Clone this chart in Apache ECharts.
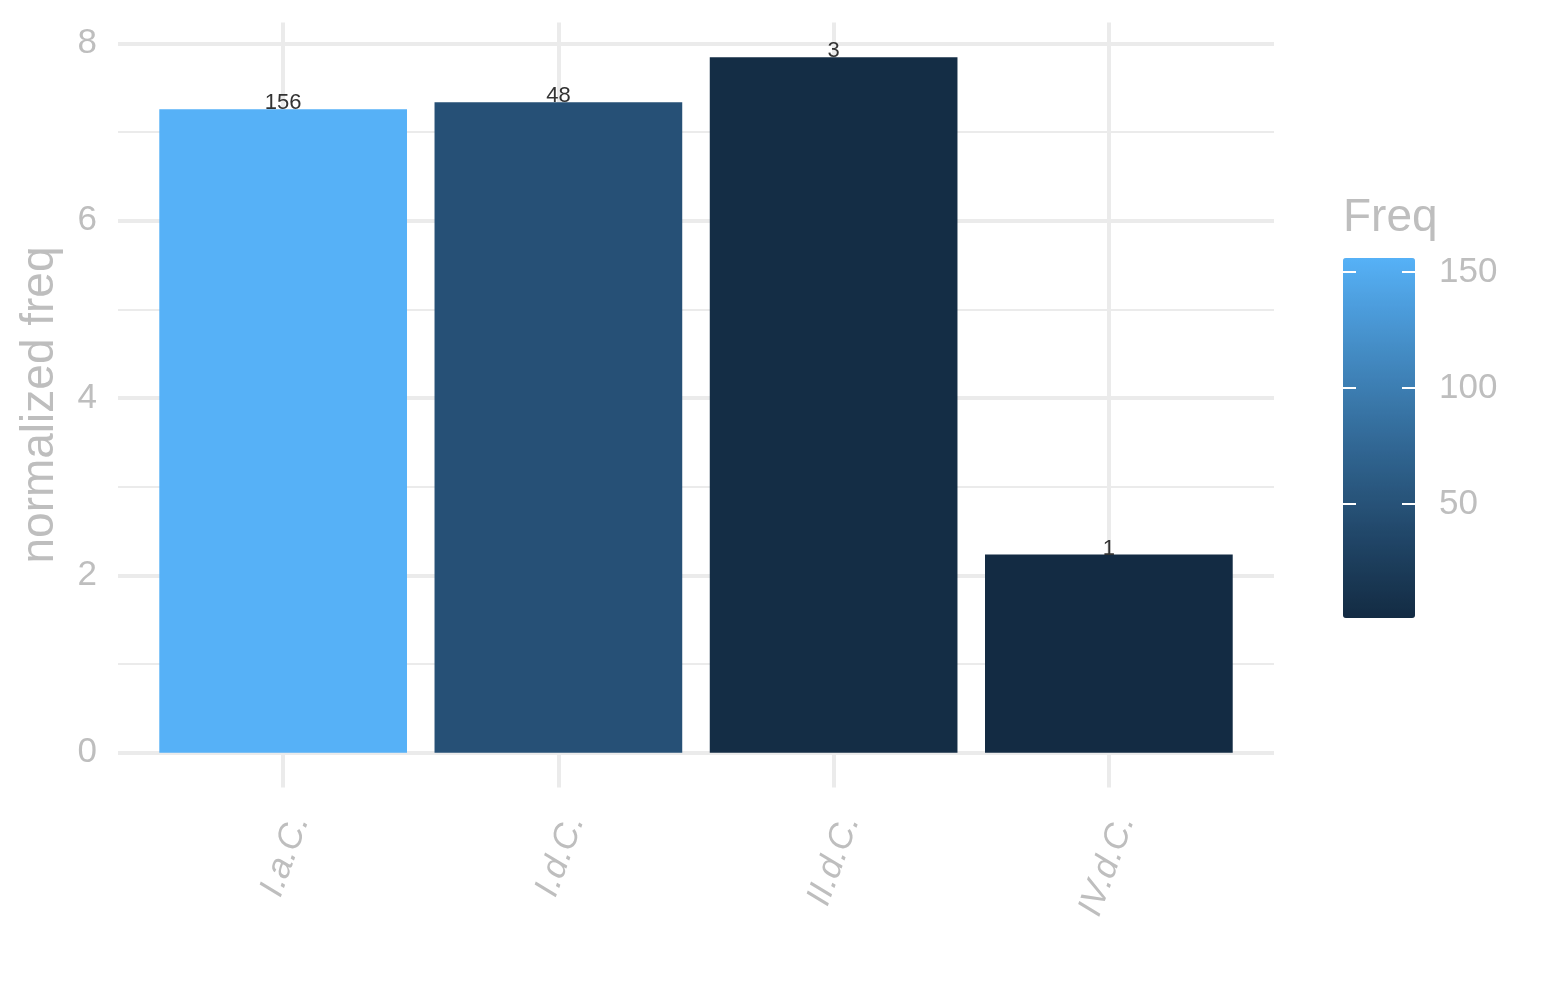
<!DOCTYPE html>
<html><head><meta charset="utf-8">
<script src="https://cdn.jsdelivr.net/npm/echarts@6/dist/echarts.min.js"></script>
<style>html,body{margin:0;padding:0;background:#fff}#main{width:1545px;height:1000px}</style>
</head><body><div id="main"></div>
<script>
// ---- data ----
const categories = ['I.a.C.', 'I.d.C.', 'II.d.C.', 'IV.d.C.'];
const normFreq = [7.255, 7.334, 7.842, 2.234];
const freq = [156, 48, 3, 1];
const yTicks = [0, 2, 4, 6, 8];
const yMinorTicks = [1, 3, 5, 7];
const legendTicks = [50, 100, 150];
const freqMin = 1, freqMax = 156;

// ---- colour gradient (Lab interpolation like ggplot) ----
const LOW = '#132B43', HIGH = '#56B1F7';
function s2l(c){c/=255;return c<=0.04045?c/12.92:Math.pow((c+0.055)/1.055,2.4);}
function l2s(c){c=c<=0.0031308?12.92*c:1.055*Math.pow(c,1/2.4)-0.055;return Math.max(0,Math.min(255,Math.round(c*255)));}
const Xn=0.95047,Yn=1,Zn=1.08883;
function f(t){return t>0.008856?Math.cbrt(t):7.787*t+16/116;}
function fi(t){return t>0.206893?t*t*t:(t-16/116)/7.787;}
function hexToLab(h){
  const r=s2l(parseInt(h.substr(1,2),16)),g=s2l(parseInt(h.substr(3,2),16)),b=s2l(parseInt(h.substr(5,2),16));
  const X=0.4124*r+0.3576*g+0.1805*b,Y=0.2126*r+0.7152*g+0.0722*b,Z=0.0193*r+0.1192*g+0.9505*b;
  const fx=f(X/Xn),fy=f(Y/Yn),fz=f(Z/Zn);
  return [116*fy-16,500*(fx-fy),200*(fy-fz)];
}
function labToHex(lab){
  const fy=(lab[0]+16)/116,fx=fy+lab[1]/500,fz=fy-lab[2]/200;
  const X=Xn*fi(fx),Y=Yn*fi(fy),Z=Zn*fi(fz);
  const r=3.2406*X-1.5372*Y-0.4986*Z,g=-0.9689*X+1.8758*Y+0.0415*Z,b=0.0557*X-0.2040*Y+1.0570*Z;
  return '#'+[r,g,b].map(c=>l2s(c).toString(16).padStart(2,'0')).join('');
}
const la=hexToLab(LOW), lb=hexToLab(HIGH);
const stops=[];
for(let i=0;i<=20;i++){const t=i/20;stops.push(labToHex([0,1,2].map(k=>la[k]+(lb[k]-la[k])*t)));}

const FONT = 'Liberation Sans, Arial, sans-serif';
const GREY = '#BEBEBE';
const GRID = '#EBEBEB';

const gridLines = [
  ...categories.map((c,i)=>({xAxis:i+1, lineStyle:{width:4, color:GRID, type:'solid'}})),
  ...yTicks.map(v=>({yAxis:v, lineStyle:{width:4, color:GRID, type:'solid'}})),
  ...yMinorTicks.map(v=>({yAxis:v, lineStyle:{width:2, color:GRID, type:'solid'}}))
];

const dmax = Math.max(...normFreq);
const chart = echarts.init(document.getElementById('main'), null, {renderer:'canvas'});
chart.setOption({
  animation:false,
  backgroundColor:'#fff',
  title:{text:'Freq', left:1343, top:195, padding:0,
    textStyle:{color:GREY, fontSize:46, fontWeight:'normal', fontFamily:FONT}},
  grid:[
    {left:118, top:22.5, width:1156, height:765},
    {left:1343, top:258, width:72, height:360}
  ],
  xAxis:[
    {type:'value', gridIndex:0, min:0.4, max:4.6,
      axisLine:{show:false}, axisTick:{show:false}, splitLine:{show:false},
      axisLabel:{customValues:[1,2,3,4], formatter:v=>categories[Math.round(v)-1],
        rotate:70, fontStyle:'italic', color:GREY, fontSize:35, fontFamily:FONT, margin:23, verticalAlign:'top'}},
    {type:'value', gridIndex:1, min:0, max:1, show:false}
  ],
  yAxis:[
    {type:'value', gridIndex:0, min:-0.05*dmax, max:dmax*1.05,
      name:'normalized freq', nameLocation:'middle', nameGap:55,
      nameTextStyle:{color:GREY, fontSize:46, fontFamily:FONT},
      axisLine:{show:false}, axisTick:{show:false}, splitLine:{show:false},
      axisLabel:{customValues:yTicks, color:GREY, fontSize:35, fontFamily:FONT, margin:21, padding:[4,0,0,0]}},
    {type:'value', gridIndex:1, min:freqMin, max:freqMax, position:'left', z:10,
      axisLine:{show:false}, splitLine:{show:false}, axisLabel:{show:false},
      axisTick:{customValues:legendTicks, inside:true, length:13, lineStyle:{color:'#fff', width:2}}},
    {type:'value', gridIndex:1, min:freqMin, max:freqMax, position:'right', z:10,
      axisLine:{show:false}, splitLine:{show:false},
      axisLabel:{customValues:legendTicks, color:GREY, fontSize:35, fontFamily:FONT, margin:24},
      axisTick:{customValues:legendTicks, inside:true, length:13, lineStyle:{color:'#fff', width:2}}}
  ],
  visualMap:{type:'continuous', min:freqMin, max:freqMax, dimension:2, seriesIndex:0,
    inRange:{color:stops}, calculable:false, left:1343, top:258, itemWidth:72, itemHeight:360,
    padding:0, hoverLink:false},
  series:[{
    type:'bar', xAxisIndex:0, yAxisIndex:0, z:3,
    data:categories.map((c,i)=>[i+1, normFreq[i], freq[i]]),
    barWidth:'90%',
    emphasis:{disabled:true},
    label:{show:true, position:'top', distance:-5, formatter:p=>String(p.value[2]),
      color:'#333', fontSize:22, fontFamily:FONT},
    markLine:{silent:true, symbol:'none', z:1, animation:false, label:{show:false},
      lineStyle:{color:GRID, type:'solid'}, data:gridLines}
  }]
});
</script></body></html>
